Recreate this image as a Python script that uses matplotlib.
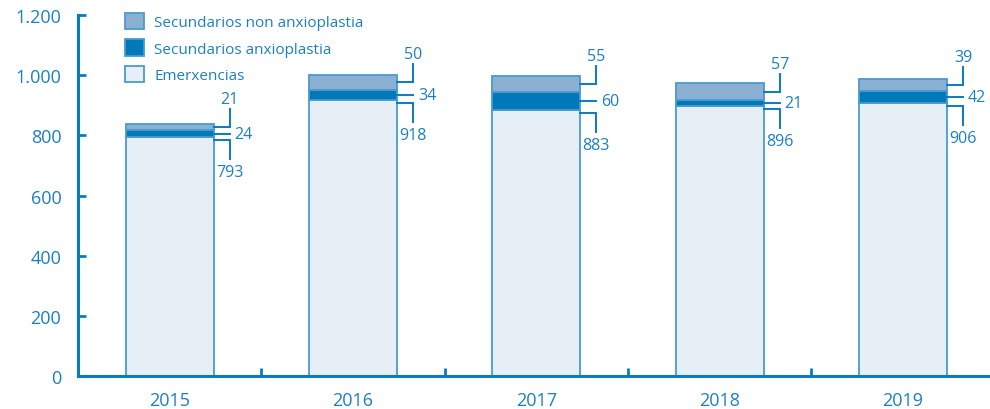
import matplotlib
matplotlib.use("Agg")
import matplotlib.pyplot as plt
from matplotlib.patches import Patch

# data
years = ["2015", "2016", "2017", "2018", "2019"]
emerxencias = [793, 918, 883, 896, 906]
sec_anxio = [24, 34, 60, 21, 42]
sec_non_anxio = [21, 50, 55, 57, 39]
yticks = [0, 200, 400, 600, 800, 1000, 1200]
ytick_labels = ["0", "200", "400", "600", "800", "1.000", "1.200"]

BLUE = "#0a7bbf"
TEXT = "#1a80c2"
C_LIGHT = "#e6eef6"
C_DARK = "#0079b8"
C_MID = "#8cb0d2"
EDGE = "#4a9ad0"

plt.rcParams["font.family"] = ["Open Sans", "DejaVu Sans"]

fig = plt.figure(figsize=(9.9, 4.1), dpi=100)
ax = fig.add_axes([78 / 990, 1 - 377 / 410, 1 - 78 / 990, (377 - 16) / 410])

x = range(len(years))
w = 0.48
ax.bar(x, emerxencias, w, color=C_LIGHT, edgecolor=EDGE, linewidth=1.3)
ax.bar(x, sec_anxio, w, bottom=emerxencias, color=C_DARK, edgecolor=EDGE, linewidth=1.3)
bott2 = [a + b for a, b in zip(emerxencias, sec_anxio)]
ax.bar(x, sec_non_anxio, w, bottom=bott2, color=C_MID, edgecolor=EDGE, linewidth=1.3)

ax.set_xlim(-0.5, 4.474)
ax.set_ylim(0, 1200)

# pixel -> data conversions
px_x = 1 / 183.5
px_y = 1200 / 361

lw = 1.4
fs = 11.5
for i in x:
    xr = i + w / 2
    xe = xr + 16 * px_x
    e, a, n = emerxencias[i], sec_anxio[i], sec_non_anxio[i]
    # top label
    yh = e + a + n / 2
    ax.plot([xr, xe, xe], [yh, yh, yh + 18 * px_y], color=BLUE, lw=lw,
            solid_joinstyle="miter", clip_on=False)
    ax.text(xe, yh + 28 * px_y, str(n), ha="center", va="center",
            color=TEXT, fontsize=fs)
    # middle label
    ym = e + a / 2
    ax.plot([xr, xe], [ym, ym], color=BLUE, lw=lw, clip_on=False)
    ax.text(xr + 21 * px_x, ym, str(a), ha="left", va="center",
            color=TEXT, fontsize=fs)
    # bottom label
    yb = e - 3 * px_y
    ax.plot([xr, xe, xe], [yb, yb, yb - 19 * px_y], color=BLUE, lw=lw,
            solid_joinstyle="miter", clip_on=False)
    ax.text(xe, yb - 32 * px_y, str(e), ha="center", va="center",
            color=TEXT, fontsize=fs)

for s in ["top", "right"]:
    ax.spines[s].set_visible(False)
for s in ["left", "bottom"]:
    ax.spines[s].set_color(BLUE)
    ax.spines[s].set_linewidth(2.2)

ax.set_yticks(yticks)
ax.set_yticklabels(ytick_labels)
ax.tick_params(axis="y", direction="in", length=6, width=2, color=BLUE,
               labelcolor=TEXT, labelsize=13, pad=12)

ax.set_xticks([0.5, 1.5, 2.5, 3.5])
ax.set_xticklabels([])
ax.set_xticks(list(x), minor=True)
ax.set_xticklabels(years, minor=True)
ax.tick_params(axis="x", which="major", direction="in", length=6, width=2, color=BLUE)
ax.tick_params(axis="x", which="minor", length=0, labelcolor=TEXT,
               labelsize=13, pad=11)

handles = [
    Patch(facecolor=C_MID, edgecolor=EDGE, linewidth=1.3, label="Secundarios non anxioplastia"),
    Patch(facecolor=C_DARK, edgecolor=EDGE, linewidth=1.3, label="Secundarios anxioplastia"),
    Patch(facecolor=C_LIGHT, edgecolor=EDGE, linewidth=1.3, label="Emerxencias"),
]
leg = fig.legend(handles=handles, loc="upper left",
                 bbox_to_anchor=(125 / 990, 1 - 14 / 410), frameon=False,
                 fontsize=11, handlelength=1.25, handleheight=1.25,
                 handletextpad=0.65, labelspacing=0.6, borderpad=0,
                 borderaxespad=0)
for t in leg.get_texts():
    t.set_color(TEXT)

fig.savefig("out.png", dpi=100)
